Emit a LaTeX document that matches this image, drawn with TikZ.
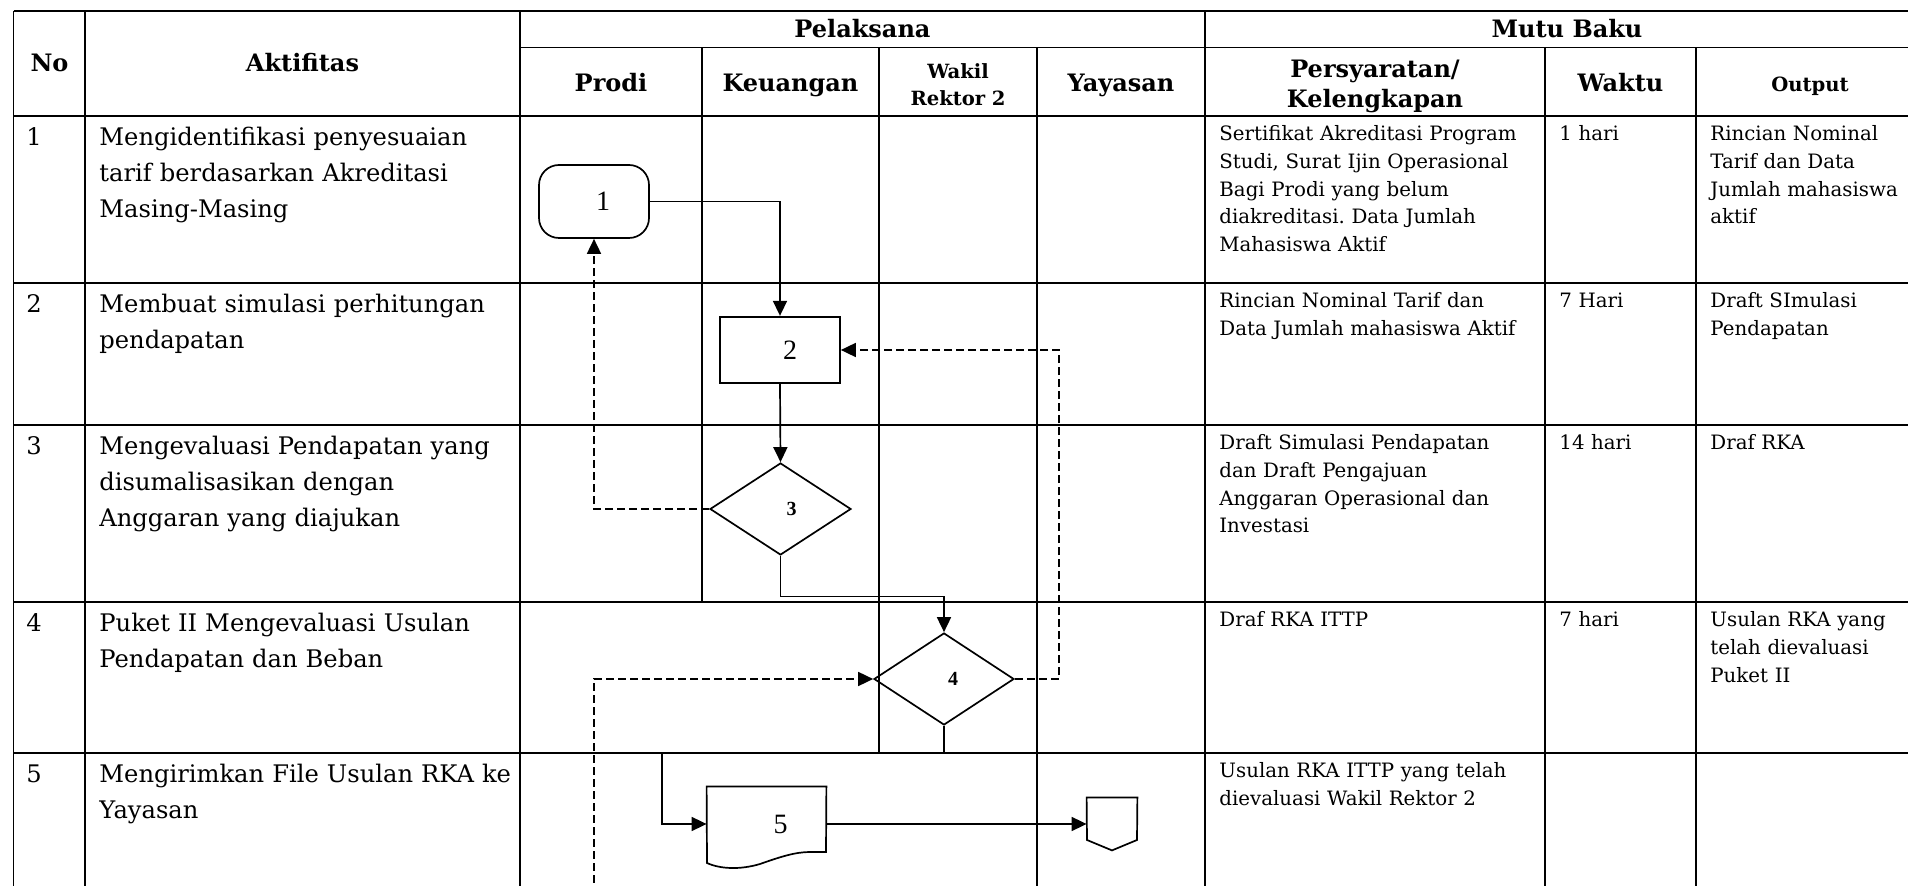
\documentclass[tikz,border=0pt]{standalone}
\usepackage{fontspec}
\setmainfont{DejaVu Serif}
\newfontfamily\timesf{Liberation Serif}
\usetikzlibrary{arrows.meta,shapes.geometric}
\frenchspacing
\tikzset{
  hl/.style={line width=1.2pt},
  vl/.style={line width=0.8pt},
  shp/.style={draw, line width=0.85pt, inner sep=0pt},
  ghost/.style={inner sep=0pt, draw=none},
  flow/.style={line width=0.85pt, -{Triangle[length=7.5pt,width=7pt]}},
  flowdash/.style={flow, dash pattern=on 4pt off 2pt},
  body/.style={anchor=base west, inner sep=0pt, text width=250pt, align=left, font=\fontsize{12.1}{17.9}\selectfont},
  num/.style={anchor=base west, inner sep=0pt, font=\fontsize{12.1}{17.9}\selectfont},
  sm/.style={anchor=base west, inner sep=0pt, text width=200pt, align=left, font=\fontsize{9.9}{13.9}\selectfont},
  hd/.style={anchor=base, inner sep=0pt, font=\bfseries\fontsize{12}{15}\selectfont},
  hdtwo/.style={anchor=base, inner sep=0pt, text width=160pt, align=center},
  numbig/.style={inner sep=0pt, font=\timesf\fontsize{14}{16}\selectfont},
  numsm/.style={inner sep=0pt, font=\timesf\bfseries\fontsize{10}{12}\selectfont}
}
\begin{document}
\begin{tikzpicture}[x=0.5pt,y=-0.5pt]
\useasboundingbox (0,0) rectangle (1908,886);
\clip (0,0) rectangle (1908,886);
% ---------- table grid ----------
\draw[hl] (13.5,11) -- (1935,11);
\draw[vl] (520,47.5) -- (1935,47.5);
\foreach \y in {116,283,425,602,753} \draw[hl] (13.5,\y) -- (1935,\y);
\foreach \x in {13.5,85,520,1205} \draw[vl] (\x,11) -- (\x,895);
\foreach \x in {1037,1545,1696} \draw[vl] (\x,47.5) -- (\x,895);
\draw[vl] (879,47.5) -- (879,753);
\draw[vl] (702,47.5) -- (702,602);
% ---------- headers ----------
\node[hd] (hno) at (49.5,72) {No};
\node[hd] (hakt) at (302.5,72) {Aktifitas};
\node[hd] (hpel) at (862.5,38) {Pelaksana};
\node[hd] (hmut) at (1567,38) {Mutu Baku};
\node[hd] (hpro) at (611,92) {Prodi};
\node[hd] (hkeu) at (790.5,92) {Keuangan};
\node[hdtwo, font=\bfseries\fontsize{9.8}{13.5}\selectfont] (hwak) at (958,79) {Wakil\\Rektor 2};
\node[hd] (hyay) at (1121,92) {Yayasan};
\node[hdtwo, font=\bfseries\fontsize{12}{15}\selectfont] (hper) at (1375,78) {Persyaratan/\\Kelengkapan};
\node[hd] (hwak2) at (1620.5,92) {Waktu};
\node[hd, font=\bfseries\fontsize{9.8}{12}\selectfont] (hout) at (1810,92) {Output};
% ---------- row texts ----------
\node[num] (n1) at (26,146) {1};
\node[body] (a1) at (99,146) {Mengidentifikasi penyesuaian\\tarif berdasarkan Akreditasi\\Masing-Masing};
\node[num] (n2) at (26,313) {2};
\node[body] (a2) at (99,313) {Membuat simulasi perhitungan\\pendapatan};
\node[num] (n3) at (26,455) {3};
\node[body] (a3) at (99,455) {Mengevaluasi Pendapatan yang\\disumalisasikan dengan\\Anggaran yang diajukan};
\node[num] (n4) at (26,632) {4};
\node[body] (a4) at (99,632) {Puket II Mengevaluasi Usulan\\Pendapatan dan Beban};
\node[num] (n5) at (26,783) {5};
\node[body] (a5) at (99,783) {Mengirimkan File Usulan RKA ke\\Yayasan};
% right columns
\node[sm] (p1) at (1219,140.5) {Sertifikat Akreditasi Program\\Studi, Surat Ijin Operasional\\Bagi Prodi yang belum\\diakreditasi. Data Jumlah\\Mahasiswa Aktif};
\node[sm] (w1) at (1559,140.5) {1 hari};
\node[sm] (o1) at (1710,140.5) {Rincian Nominal\\Tarif dan Data\\Jumlah mahasiswa\\aktif};
\node[sm] (p2) at (1219,307.5) {Rincian Nominal Tarif dan\\Data Jumlah mahasiswa Aktif};
\node[sm] (w2) at (1559,307.5) {7 Hari};
\node[sm] (o2) at (1710,307.5) {Draft SImulasi\\Pendapatan};
\node[sm] (p3) at (1219,449.5) {Draft Simulasi Pendapatan\\dan Draft Pengajuan\\Anggaran Operasional dan\\Investasi};
\node[sm] (w3) at (1559,449.5) {14 hari};
\node[sm] (o3) at (1710,449.5) {Draf RKA};
\node[sm] (p4) at (1219,626.5) {Draf RKA ITTP};
\node[sm] (w4) at (1559,626.5) {7 hari};
\node[sm] (o4) at (1710,626.5) {Usulan RKA yang\\telah dievaluasi\\Puket II};
\node[sm] (p5) at (1219,777.5) {Usulan RKA ITTP yang telah\\dievaluasi Wakil Rektor 2};
% ---------- flowchart shapes ----------
\node[shp, rounded corners=10pt, minimum width=55pt, minimum height=36.5pt] (t1) at (594,201.5) {};
\node[shp, minimum width=60pt, minimum height=33.3pt] (b2) at (780,350) {};
\node[shp, diamond, minimum width=70.5pt, minimum height=46pt] (d3) at (780.5,509) {};
\node[shp, diamond, minimum width=70pt, minimum height=46pt] (d4) at (944,679) {};
\node[ghost, minimum width=59.5pt, minimum height=37pt] (d5) at (766.5,824) {};
\node[ghost, minimum width=25pt, minimum height=26pt] (oc) at (1112,824) {};
\draw[line width=0.85pt] (d5.north west) -- (d5.north east) -- (826,852) -- (810,852)
  .. controls (795,852) and (780,857) .. (760,864)
  .. controls (740,870) and (720,869) .. (707,863) -- cycle;
\draw[line width=0.85pt] (oc.north west) -- (oc.north east) -- (1137,840) -- (oc.south) -- (1087,840) -- cycle;
% labels
\node[numbig] (l1) at ([xshift=4.5pt]t1.center) {1};
\node[numbig] (l2) at ([xshift=5pt]b2.center) {2};
\node[numsm] (l3) at ([xshift=5.5pt]d3.center) {3};
\node[numsm] (l4) at ([xshift=4.5pt]d4.center) {4};
\node[numbig] (l5) at ([xshift=7pt]d5.center) {5};
% ---------- connectors ----------
\coordinate (j34) at (944,596.5);
\coordinate (j45a) at (944,753);
\coordinate (j45b) at (662,753);
\coordinate (dr) at (1059,679);
\coordinate (dl) at (594,895);
\draw[flow] (t1.east) -| (b2.north);
\draw[flow] (b2.south) -- (d3.north);
\draw[flow] (d3.south) |- (j34) -- (d4.north);
\draw[flow] (d4.south) -- (j45a) -- (j45b) |- (d5.west);
\draw[flow] (d5.east) -- (oc.west);
\draw[flowdash] (d3.west) -| (t1.south);
\draw[flowdash] (d4.east) -- (dr) |- (b2.east);
\draw[flowdash] (dl) |- (d4.west);
\end{tikzpicture}
\end{document}
